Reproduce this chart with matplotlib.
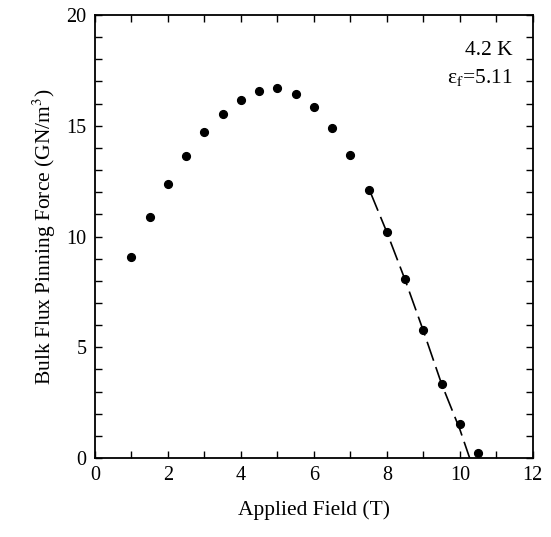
import numpy as np
from matplotlib import pyplot as plt
from matplotlib.ticker import MultipleLocator

plt.rcParams['font.family'] = ['Liberation Serif', 'DejaVu Serif']
plt.rcParams['mathtext.fontset'] = 'stix'

field = [1.0, 1.5, 2.0, 2.5, 3.0, 3.5, 4.0, 4.5, 5.0, 5.5, 6.0, 6.5, 7.0,
         7.5, 8.0, 8.5, 9.0, 9.5, 10.0, 10.5]
force = [9.07, 10.89, 12.38, 13.62, 14.72, 15.55, 16.17, 16.55, 16.7, 16.43,
         15.87, 14.92, 13.69, 12.1, 10.21, 8.09, 5.78, 3.36, 1.53, 0.25]

# dashed extrapolation line
fit_field = [7.55, 8.0, 8.5, 9.0, 9.5, 10.0, 10.27]
fit_force = [12.0, 10.2, 8.05, 5.75, 3.35, 1.3, 0.0]

fig = plt.figure(figsize=(5.51, 5.37), dpi=100)
ax = fig.add_axes([0.172, 0.147, 0.795, 0.825])

ax.plot(fit_field, fit_force, color='black', lw=1.2, dashes=(12, 4))
ax.plot(field, force, 'o', color='black', markersize=5.6)

ax.set_xlim(0, 12)
ax.set_ylim(0, 20)
ax.xaxis.set_major_locator(MultipleLocator(2))
ax.xaxis.set_minor_locator(MultipleLocator(1))
ax.yaxis.set_major_locator(MultipleLocator(5))
ax.yaxis.set_minor_locator(MultipleLocator(1))
ax.tick_params(which='both', direction='in', top=True, right=True,
               length=5, width=1.0, labelsize=14.5, pad=6)
for s in ax.spines.values():
    s.set_linewidth(1.3)

ax.set_xlabel('Applied Field (T)', fontsize=15.5, labelpad=11)
ax.set_ylabel('Bulk Flux Pinning Force (GN/m$^3$)', fontsize=15.5, labelpad=6)

ax.text(11.45, 18.4, '4.2 K', fontsize=15.5, ha='right', va='center')
ax.text(11.45, 17.2, 'ε$_{\\mathrm{f}}$=5.11', fontsize=15.5, ha='right', va='center')

plt.savefig('out.png', dpi=100)
